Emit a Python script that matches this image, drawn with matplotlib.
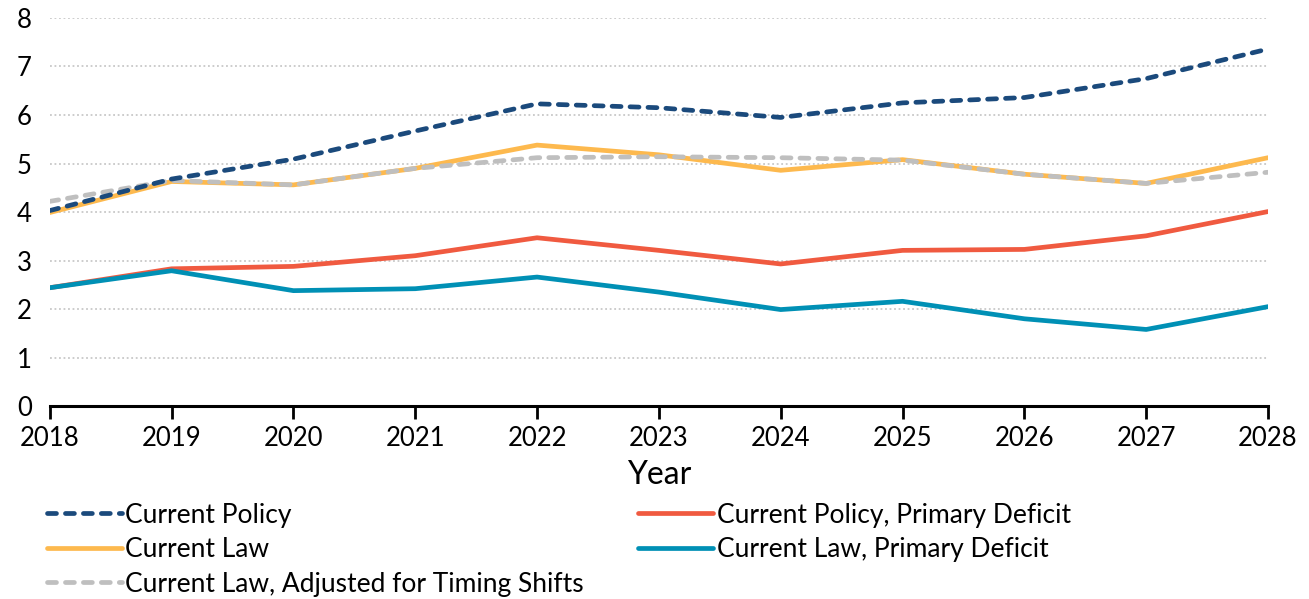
import matplotlib
matplotlib.use("Agg")
import matplotlib.pyplot as plt

years = [2018, 2019, 2020, 2021, 2022, 2023, 2024, 2025, 2026, 2027, 2028]
current_policy = [4.03, 4.68, 5.09, 5.67, 6.23, 6.15, 5.95, 6.25, 6.36, 6.75, 7.36]
current_law = [3.99, 4.63, 4.56, 4.90, 5.38, 5.18, 4.86, 5.08, 4.78, 4.59, 5.12]
current_law_adj = [4.22, 4.65, 4.56, 4.90, 5.12, 5.14, 5.12, 5.07, 4.78, 4.59, 4.82]
cp_primary = [2.44, 2.83, 2.88, 3.10, 3.47, 3.21, 2.93, 3.21, 3.23, 3.51, 4.01]
cl_primary = [2.44, 2.79, 2.38, 2.42, 2.66, 2.35, 1.99, 2.16, 1.80, 1.58, 2.05]

plt.rcParams['font.family'] = ['Lato', 'DejaVu Sans']

fig = plt.figure(figsize=(13.09, 5.99), dpi=100)
ax = fig.add_axes([0.038, 0.322, 0.9307, 0.648])

lw = 3.4
h_cpp, = ax.plot(years, cp_primary, color='#F05A40', lw=lw, label='Current Policy, Primary Deficit', solid_capstyle='round', zorder=3)
h_clp, = ax.plot(years, cl_primary, color='#0090B5', lw=lw, label='Current Law, Primary Deficit', solid_capstyle='round', zorder=4)
h_cl, = ax.plot(years, current_law, color='#FDB94E', lw=lw, label='Current Law', solid_capstyle='round', zorder=3)
h_adj, = ax.plot(years, current_law_adj, color='#BFBFBF', lw=lw, ls=(0, (1.9, 1.9)), dash_capstyle='round',
                 label='Current Law, Adjusted for Timing Shifts', zorder=4)
h_cp, = ax.plot(years, current_policy, color='#1B4A7C', lw=lw, ls=(0, (1.9, 1.9)), dash_capstyle='round',
                label='Current Policy', zorder=5)

ax.set_xlim(2018, 2028)
ax.set_ylim(0, 8)
ax.set_xticks(years)
ax.set_xticklabels([str(y) for y in years])
ax.set_yticks(range(0, 9))
ax.yaxis.grid(True, color='#C8C8C8', ls=(0, (1, 1.5)), lw=1.3)
ax.set_axisbelow(True)
for s in ['top', 'right', 'left']:
    ax.spines[s].set_visible(False)
ax.spines['bottom'].set_linewidth(2.2)
ax.spines['bottom'].set_color('black')
ax.tick_params(axis='x', direction='out', length=9, width=2, labelsize=18.5, pad=5)
ax.tick_params(axis='y', length=0, labelsize=18.5, pad=13)
ax.set_xlabel('Year', fontsize=23, labelpad=7)

fig.legend(handles=[h_cp, h_cl, h_adj, h_cpp, h_clp], ncol=2, loc='upper left',
           bbox_to_anchor=(0.036, 0.161), frameon=False, fontsize=19,
           handlelength=2.85, handletextpad=0.12, columnspacing=2.05, labelspacing=0.36,
           borderaxespad=0, borderpad=0)

fig.savefig('out.png', dpi=100)
